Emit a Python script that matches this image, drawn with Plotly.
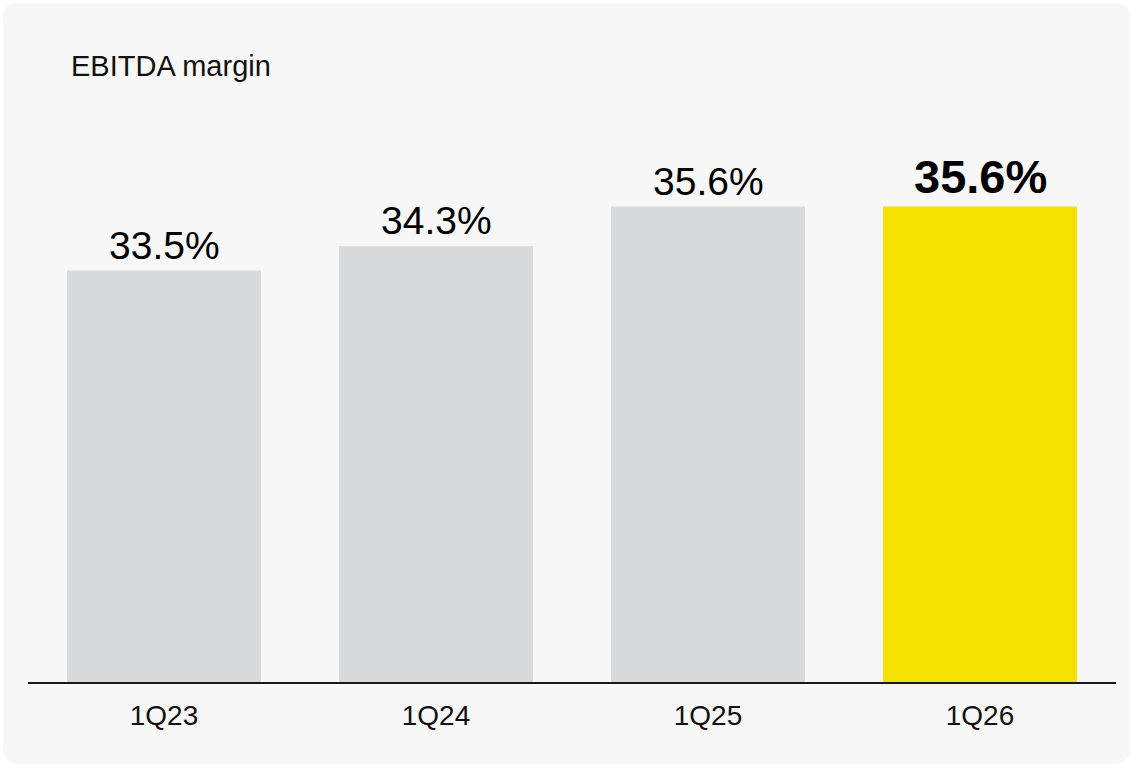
import plotly.graph_objects as go

# Quarterly EBITDA margin, %
quarters = ["1Q23", "1Q24", "1Q25", "1Q26"]
margin_pct = [33.5, 34.3, 35.6, 35.6]
highlight = [False, False, False, True]

W, H = 1132, 766
M_L, M_R, M_T, M_B = 28, 16, 100, 84
plot_w = W - M_L - M_R
plot_h = H - M_T - M_B

GRAY = "#d8d9db"
YELLOW = "#f5e100"
PANEL = "#f7f7f7"
FONT = "Liberation Sans, Arial, sans-serif"

y_min = 20
y_max = y_min + plot_h / 30.48

colors = [YELLOW if h else GRAY for h in highlight]

fig = go.Figure(
    go.Bar(
        x=quarters,
        y=margin_pct,
        marker=dict(color=colors, line=dict(width=0)),
        hoverinfo="skip",
    )
)

# value labels above the bars; the latest quarter is emphasised
annotations = []
for q, v, h in zip(quarters, margin_pct, highlight):
    annotations.append(
        dict(
            x=q, y=v, xref="x", yref="y",
            text=f"<b>{v:.1f}%</b>" if h else f"{v:.1f}%",
            showarrow=False,
            yanchor="bottom",
            yshift=2,
            font=dict(family=FONT, size=47 if h else 39, color="#000000"),
        )
    )

# chart heading
annotations.append(
    dict(
        x=(69 - M_L) / plot_w, y=(M_T + plot_h - 66) / plot_h,
        xref="paper", yref="paper",
        xanchor="left", yanchor="middle",
        text="EBITDA margin", showarrow=False,
        font=dict(family=FONT, size=29, color="#111111"),
    )
)


# rounded background card, expressed in paper coordinates
def px_to_paper(px, py):
    return (px - M_L) / plot_w, (M_T + plot_h - py) / plot_h


x0, y0, x1, y1, r = 3, 3, 1130, 764, 16
pts = [
    ("M", (x0 + r, y0)),
    ("L", (x1 - r, y0)),
    ("Q", (x1, y0), (x1, y0 + r)),
    ("L", (x1, y1 - r)),
    ("Q", (x1, y1), (x1 - r, y1)),
    ("L", (x0 + r, y1)),
    ("Q", (x0, y1), (x0, y1 - r)),
    ("L", (x0, y0 + r)),
    ("Q", (x0, y0), (x0 + r, y0)),
]
path = ""
for cmd, *coords in pts:
    path += cmd + " " + " ".join(
        "{:.5f},{:.5f}".format(*px_to_paper(*c)) for c in coords
    ) + " "
path += "Z"

fig.update_layout(
    width=W,
    height=H,
    margin=dict(l=M_L, r=M_R, t=M_T, b=M_B, pad=0),
    paper_bgcolor="#ffffff",
    plot_bgcolor="rgba(0,0,0,0)",
    bargap=0.287,
    showlegend=False,
    annotations=annotations,
    shapes=[
        dict(
            type="path", path=path, xref="paper", yref="paper",
            fillcolor=PANEL, line=dict(width=0), layer="below",
        )
    ],
    xaxis=dict(
        showline=True, linecolor="#1a1a1a", linewidth=2,
        showgrid=False, zeroline=False, ticks="",
        tickfont=dict(family=FONT, size=28, color="#111111"),
        ticklabelstandoff=7,
    ),
    yaxis=dict(
        range=[y_min, y_max], visible=False, showgrid=False, zeroline=False,
    ),
)

fig.write_html("out.html")
